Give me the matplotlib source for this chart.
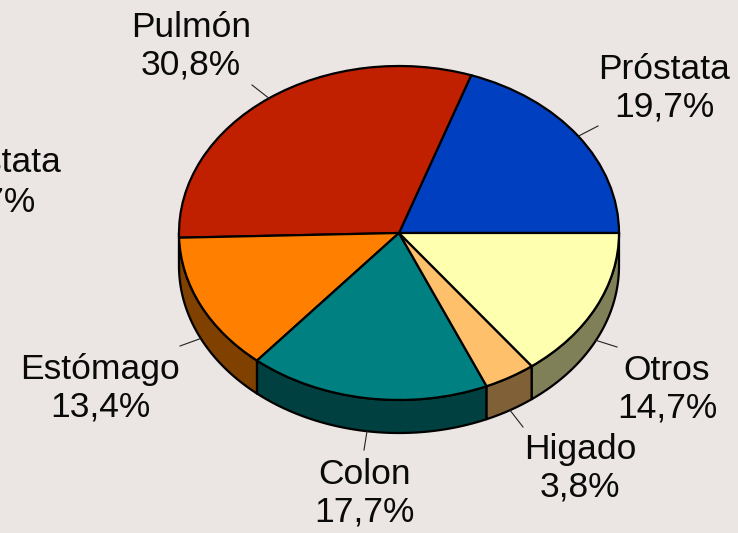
# -*- coding: utf-8 -*-
import numpy as np
import matplotlib
matplotlib.use("Agg")
import matplotlib.pyplot as plt

names = ["Próstata", "Pulmón", "Estómago", "Colon", "Higado", "Otros"]
pct_labels = ["19,7%", "30,8%", "13,4%", "17,7%", "3,8%", "14,7%"]
values = [19.7, 30.8, 13.4, 17.7, 3.8, 14.7]
top_colors = ["#0040c0", "#c02000", "#ff8000", "#008080", "#ffc06c", "#ffffb0"]
side_colors = ["#002060", "#601000", "#804000", "#004040", "#806036", "#808058"]

# pixel layout of the 3d look
W, H = 738, 533
CX, CY, RX, RY = 399, 233, 220, 167
DEPTH = 33 / RY
BG = "#ebe6e3"
FS = 25.5

# label centre (px), leader end (px)
label_pos = [(664, 88), (191, 46), (100, 388), (364, 493), (580, 468), (667, 389)]
leader_end = [(598, 126), (252, 85), (180, 346), (364, 450), (523, 427), (617, 347)]


def px(x, y):
    return (x - CX) / RX, (CY - y) / RY


plt.rcParams["font.family"] = ["Liberation Sans", "DejaVu Sans"]
fig = plt.figure(figsize=(W / 100, H / 100), dpi=100, facecolor=BG)
ax = fig.add_axes([0, 0, 1, 1])

frac = np.array(values) / sum(values)
edges = np.concatenate([[0], np.cumsum(frac) * 360])

# side wall, only the front half shows
for i in range(len(values)):
    a0 = max(edges[i], 180)
    a1 = edges[i + 1]
    if a1 <= 180:
        continue
    t = np.radians(np.linspace(a0, a1, 80))
    xs = np.cos(t)
    ys = np.sin(t)
    ax.fill(np.r_[xs, xs[::-1]], np.r_[ys, ys[::-1] - DEPTH],
            facecolor=side_colors[i], edgecolor="black", lw=1.6, joinstyle="round")

ax.pie(values, colors=top_colors, startangle=0, radius=1,
       wedgeprops={"edgecolor": "black", "linewidth": 1.6})

# leaders start on the rim at the slice's mid angle
for i in range(len(values)):
    mid = np.radians((edges[i] + edges[i + 1]) / 2)
    x0, y0 = np.cos(mid), np.sin(mid)
    if y0 < 0:
        y0 -= DEPTH
    x1, y1 = px(*leader_end[i])
    ax.plot([x0, x1], [y0, y1], color="#222222", lw=0.8, zorder=1)
    tx, ty = px(*label_pos[i])
    ax.text(tx, ty, names[i] + "\n" + pct_labels[i], ha="center", va="center",
            fontsize=FS, color="#0a0a0a", linespacing=1.18)

# stray label cut off by the left edge of the picture
ax.text(*px(61, 162), names[0], ha="right", va="center", fontsize=FS, color="#0a0a0a")
ax.text(*px(36, 202), pct_labels[0], ha="right", va="center", fontsize=FS, color="#0a0a0a")

ax.set_aspect("auto")
ax.set_xlim(-CX / RX, (W - CX) / RX)
ax.set_ylim((CY - H) / RY, CY / RY)
ax.axis("off")
fig.savefig("out.png", dpi=100, facecolor=BG)
